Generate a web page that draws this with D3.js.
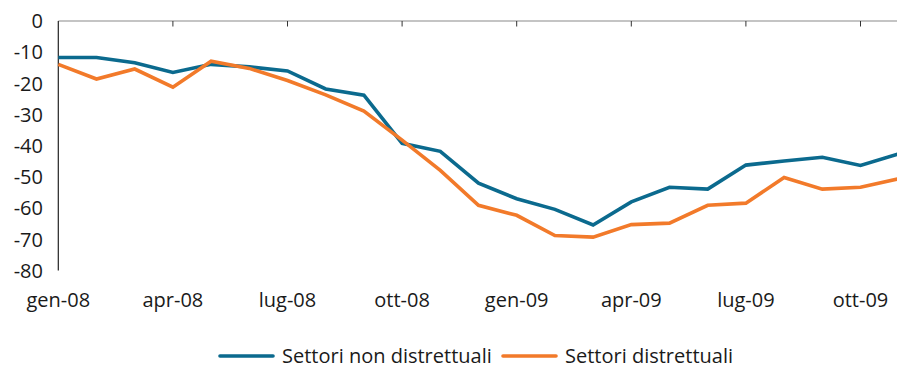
<!DOCTYPE html>
<html>
<head>
<meta charset="utf-8">
<script src="https://cdn.jsdelivr.net/npm/d3@7"></script>
<style>
  html, body { margin: 0; padding: 0; background: #fff; }
  svg { display: block; font-family: "Open Sans", "Noto Sans", sans-serif; }
</style>
</head>
<body>
<svg id="chart" width="897" height="370"></svg>
<script>
// Monthly categories, January 2008 – November 2009
const months = [
  "gen-08","feb-08","mar-08","apr-08","mag-08","giu-08","lug-08","ago-08","set-08","ott-08","nov-08","dic-08",
  "gen-09","feb-09","mar-09","apr-09","mag-09","giu-09","lug-09","ago-09","set-09","ott-09","nov-09"
];
const tickMonths = ["gen-08","apr-08","lug-08","ott-08","gen-09","apr-09","lug-09","ott-09"];
const yTicks = [0, -10, -20, -30, -40, -50, -60, -70, -80];

const nonDistrettuali = [
  -11.7, -11.7, -13.4, -16.5, -13.9, -14.7, -16.0, -21.8, -23.8, -39.2, -41.8, -52.0,
  -57.0, -60.4, -65.4, -58.0, -53.3, -53.9, -46.2, -44.9, -43.7, -46.3, -42.6
];
const distrettuali = [
  -13.9, -18.6, -15.4, -21.2, -12.9, -15.2, -19.1, -23.7, -28.9, -38.2, -47.9, -59.1,
  -62.3, -68.8, -69.3, -65.3, -64.8, -59.1, -58.4, -50.2, -53.9, -53.3, -50.6
];

const seriesNames = ["Settori non distrettuali", "Settori distrettuali"];
const seriesColors = ["#0b6a8e", "#f27a2a"];

const svg = d3.select("#chart");

const x = d3.scalePoint().domain(months).range([58.3, 898.7]);
const y = d3.scaleLinear().domain([-80, 0]).range([270.5, 21]);

// Category axis sits at the zero line, ticks pointing down into the plot
svg.append("line")
  .attr("x1", 58.3).attr("x2", 897)
  .attr("y1", y(0)).attr("y2", y(0))
  .attr("stroke", "#8a8a8a").attr("stroke-width", 1.2);

svg.selectAll("line.xtick")
  .data(tickMonths.slice(1))
  .join("line")
  .attr("class", "xtick")
  .attr("x1", d => x(d)).attr("x2", d => x(d))
  .attr("y1", y(0)).attr("y2", y(0) + 5.5)
  .attr("stroke", "#333").attr("stroke-width", 1);

// Value axis line
svg.append("line")
  .attr("x1", 58.3).attr("x2", 58.3)
  .attr("y1", y(0)).attr("y2", y(-80))
  .attr("stroke", "#222").attr("stroke-width", 1.2);

// Value labels
svg.selectAll("text.ylab")
  .data(yTicks)
  .join("text")
  .attr("class", "ylab")
  .attr("x", 43)
  .attr("y", d => y(d))
  .attr("dy", "0.36em")
  .attr("text-anchor", "end")
  .attr("font-size", 20)
  .attr("fill", "#1a1a1a")
  .text(d => d);

// Month labels below the plot
svg.selectAll("text.xlab")
  .data(tickMonths)
  .join("text")
  .attr("class", "xlab")
  .attr("x", d => x(d))
  .attr("y", 307)
  .attr("text-anchor", "middle")
  .attr("font-size", 20)
  .attr("fill", "#1a1a1a")
  .text(d => d);

// Series lines
const line = d3.line()
  .x((d, i) => x(months[i]))
  .y(d => y(d));

[nonDistrettuali, distrettuali].forEach((vals, k) => {
  svg.append("path")
    .datum(vals)
    .attr("fill", "none")
    .attr("stroke", seriesColors[k])
    .attr("stroke-width", 3.6)
    .attr("stroke-linejoin", "miter")
    .attr("d", line);
});

// Legend
const legendItems = [
  { name: seriesNames[0], color: seriesColors[0], x0: 220 },
  { name: seriesNames[1], color: seriesColors[1], x0: 503 }
];
const lg = svg.selectAll("g.legend")
  .data(legendItems)
  .join("g")
  .attr("class", "legend")
  .attr("transform", d => `translate(${d.x0},356)`);
lg.append("line")
  .attr("x1", 0).attr("x2", 53)
  .attr("y1", 0).attr("y2", 0)
  .attr("stroke", d => d.color)
  .attr("stroke-width", 3.6)
  .attr("stroke-linecap", "round");
lg.append("text")
  .attr("x", 62)
  .attr("y", 0)
  .attr("dy", "0.34em")
  .attr("font-size", 20)
  .attr("fill", "#1a1a1a")
  .text(d => d.name);
</script>
</body>
</html>
